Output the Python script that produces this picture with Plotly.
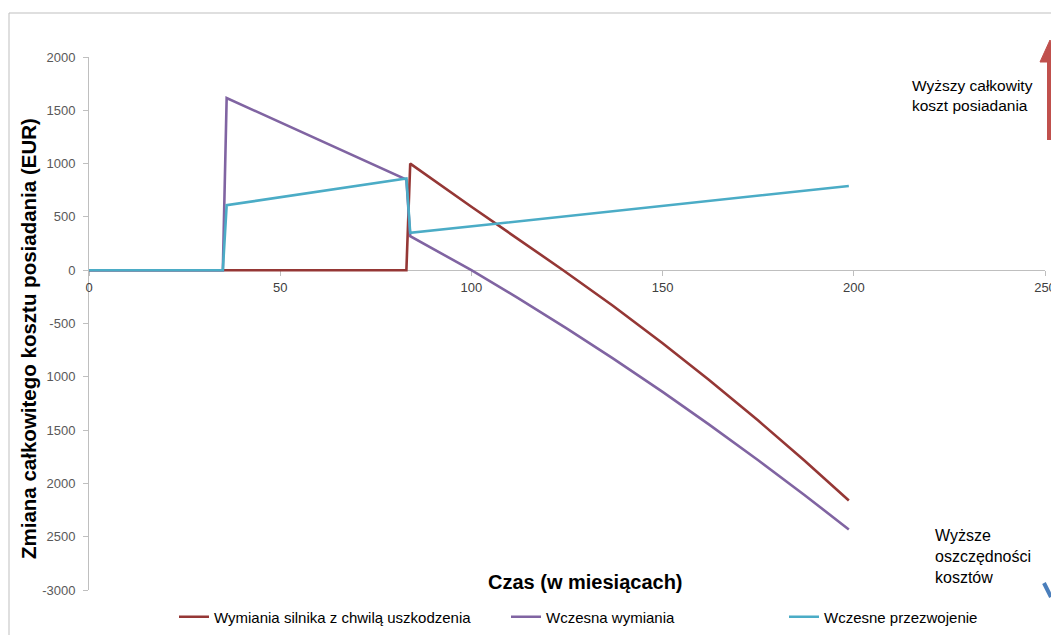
import plotly.graph_objects as go

# ---- data ----
months_red = [0, 83, 84, 100, 124, 137, 150, 162, 175, 187, 198.7]
cost_red = [0, 0, 1000, 595, 0, -334, -685, -1026, -1411, -1783, -2160]

months_purple = [0, 35, 36, 83, 84, 100, 112, 125, 137, 150, 162, 175, 187, 198.7]
cost_purple = [0, 0, 1615, 850, 320, 0, -257, -548, -828, -1142, -1444, -1783, -2106, -2432]

months_cyan = [0, 35, 36, 83, 84, 198.7]
cost_cyan = [0, 0, 610, 860, 350, 790]

series_names = ["Wymiania silnika z chwilą uszkodzenia", "Wczesna wymiania", "Wczesne przezwojenie"]
series_colors = ["#953735", "#8064a2", "#4bacc6"]

y_tickvals = [2000, 1500, 1000, 500, 0, -500, -1000, -1500, -2000, -2500, -3000]
y_ticktext = ["2000", "1500", "1000", "500", "0", "-500", "1000", "1500", "2000", "2500", "-3000"]
x_tickvals = [0, 50, 100, 150, 200, 250]

# ---- layout geometry (page pixels; body margin removed in post_script) ----
W, H = 1051, 635
L, R, T, B = 89, 6, 57, 45
PW, PH = W - L - R, H - T - B


def px(xp):  # page pixel x -> paper
    return (xp - L) / PW


def py(yp):  # page pixel y -> paper
    return (H - B - yp) / PH


fig = go.Figure()
data = [(months_red, cost_red), (months_purple, cost_purple), (months_cyan, cost_cyan)]
legend_ids = ["legend", "legend2", "legend3"]
for (xs, ys), name, col, lg in zip(data, series_names, series_colors, legend_ids):
    fig.add_trace(go.Scatter(x=xs, y=ys, mode="lines", name=name,
                             line=dict(color=col, width=2.6), legend=lg))

leg_common = dict(orientation="h", yanchor="middle", xanchor="left",
                  font=dict(family="Liberation Sans Narrow, Arial Narrow, Liberation Sans", size=15, color="#000000"),
                  bgcolor="rgba(0,0,0,0)", itemwidth=30)

fig.update_layout(
    width=W, height=H,
    margin=dict(l=L, r=R, t=T, b=B, autoexpand=False),
    paper_bgcolor="white", plot_bgcolor="white",
    showlegend=True,
    legend=dict(x=px(174), y=py(617), **leg_common),
    legend2=dict(x=px(506), y=py(617), **leg_common),
    legend3=dict(x=px(784), y=py(617), **leg_common),
    xaxis=dict(range=[0, 250], tickvals=x_tickvals, showgrid=False, zeroline=False,
               anchor="free", position=0.6, showline=True, linecolor="#bfbfbf", linewidth=1,
               ticks="outside", ticklen=5, tickcolor="#bfbfbf", layer="below traces",
               ticklabeloverflow="allow",
               tickfont=dict(family="Liberation Sans, Arial", size=13, color="#404040"),
               automargin=False),
    yaxis=dict(range=[-3000, 2000], tickvals=y_tickvals, ticktext=y_ticktext,
               showgrid=False, zeroline=False, showline=True, linecolor="#bfbfbf", linewidth=1,
               ticks="outside", ticklen=5, tickcolor="#bfbfbf", ticklabelstandoff=5,
               layer="below traces",
               tickfont=dict(family="Liberation Sans, Arial", size=13, color="#595959"),
               automargin=False),
)

# axis titles as annotations
fig.add_annotation(text="<b>Czas (w miesiącach)</b>", xref="paper", yref="paper",
                   x=px(585), y=py(582), xanchor="center", yanchor="middle", showarrow=False,
                   font=dict(family="Liberation Sans, Arial", size=20, color="#000000"))
fig.add_annotation(text="<b>Zmiana całkowitego kosztu posiadania (EUR)</b>", xref="paper", yref="paper",
                   x=px(28), y=py(339), xanchor="center", yanchor="middle", showarrow=False, textangle=-90,
                   font=dict(family="Liberation Sans, Arial", size=20.5, color="#000000"))

# side notes
fig.add_annotation(text="Wyższy całkowity<br>koszt posiadania", xref="paper", yref="paper",
                   x=px(910), y=py(75), xanchor="left", yanchor="top", align="left", showarrow=False,
                   font=dict(family="Liberation Sans, Arial", size=15.5, color="#000000"))
fig.add_annotation(text="Wyższe<br>oszczędności<br>kosztów", xref="paper", yref="paper",
                   x=px(933), y=py(525), xanchor="left", yanchor="top", align="left", showarrow=False,
                   font=dict(family="Liberation Sans, Arial", size=16, color="#000000"))

# outer frame (top and left edges)
frame = dict(color="#bfbfbf", width=1)
fig.add_shape(type="line", xref="paper", yref="paper", x0=px(9), x1=px(1051), y0=py(13), y1=py(13), line=frame)
fig.add_shape(type="line", xref="paper", yref="paper", x0=px(9), x1=px(9), y0=py(13), y1=py(635), line=frame)

# red arrow (top right, cut by the edge)
fig.add_shape(type="line", xref="paper", yref="paper", x0=px(1049), x1=px(1049), y0=py(140), y1=py(58),
              line=dict(color="#c0504d", width=4))
fig.add_shape(type="path", xref="paper", yref="paper",
              path=f"M {px(1040)},{py(62)} L {px(1050)},{py(40)} L {px(1060)},{py(62)} Z",
              fillcolor="#c0504d", line=dict(color="#c0504d", width=1))
# blue arrow (bottom right)
fig.add_shape(type="line", xref="paper", yref="paper", x0=px(1044), x1=px(1051), y0=py(583), y1=py(597),
              line=dict(color="#4a7ebb", width=4))

fig.write_html("out.html", config={"displayModeBar": False},
               post_script="document.body.style.margin='0px';")
